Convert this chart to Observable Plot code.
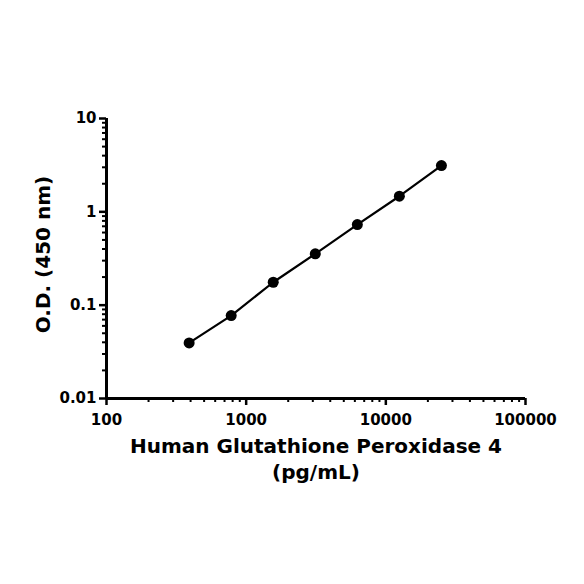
<!DOCTYPE html>
<html><head><meta charset="utf-8">
<script src="https://cdn.jsdelivr.net/npm/d3@7"></script>
<script src="https://cdn.jsdelivr.net/npm/@observablehq/plot@0.6"></script>
<style>html,body{margin:0;padding:0;background:#fff;}</style>
</head><body><div id="chart"></div>
<script>
const concentrations = [390.625, 781.25, 1562.5, 3125, 6250, 12500, 25000];
const od = [0.0394, 0.0774, 0.176, 0.355, 0.731, 1.47, 3.13];
const xTicks = [100, 1000, 10000, 100000];
const xTickLabels = ["100", "1000", "10000", "100000"];
const yTicks = [0.01, 0.1, 1, 10];
const yTickLabels = ["0.01", "0.1", "1", "10"];
const xLabel1 = "Human Glutathione Peroxidase 4";
const xLabel2 = "(pg/mL)";
const yLabel = "O.D. (450 nm)";

const data = concentrations.map((c, i) => ({c, od: od[i]}));
const minor = (lo, hi) => {
  const out = [];
  for (let d = lo; d < hi; d *= 10) for (let k = 2; k <= 9; k++) out.push(d * k);
  return out;
};
const xMinor = minor(100, 100000);
const yMinor = minor(0.01, 10);
const font = "'DejaVu Sans', sans-serif";

const chart = Plot.plot({
  width: 584, height: 584,
  marginLeft: 106, marginRight: 59, marginTop: 118, marginBottom: 186,
  style: {fontFamily: font, background: "#fff", color: "#000"},
  x: {type: "log", domain: [100, 100000]},
  y: {type: "log", domain: [0.01, 10]},
  marks: [
    Plot.axisX(xMinor, {tickSize: 4, strokeWidth: 2, tickFormat: () => "", label: null}),
    Plot.axisY(yMinor, {tickSize: 4, strokeWidth: 2, tickFormat: () => "", label: null}),
    Plot.axisX(xTicks, {tickSize: 7, strokeWidth: 2.5, tickPadding: 9, fontSize: 15, fontWeight: "bold",
      tickFormat: d => xTickLabels[xTicks.indexOf(d)], label: null}),
    Plot.axisY(yTicks, {tickSize: 7, strokeWidth: 2.5, tickPadding: 3, fontSize: 15, fontWeight: "bold",
      tickFormat: d => yTickLabels[yTicks.indexOf(d)], label: null}),
    Plot.ruleY([0.01], {strokeWidth: 3}),
    Plot.ruleX([100], {strokeWidth: 3}),
    Plot.line(data, {x: "c", y: "od", stroke: "#000", strokeWidth: 2.2}),
    Plot.dot(data, {x: "c", y: "od", r: 5.5, fill: "#000", stroke: "none"}),
    Plot.text([xLabel1], {frameAnchor: "bottom", dy: 54, fontSize: 20, fontWeight: "bold", text: d => d}),
    Plot.text([xLabel2], {frameAnchor: "bottom", dy: 80, fontSize: 20, fontWeight: "bold", text: d => d}),
    Plot.text([yLabel], {frameAnchor: "left", textAnchor: "middle", lineAnchor: "middle", dx: -63, dy: -4, rotate: -90, fontSize: 20, fontWeight: "bold", text: d => d})
  ]
});
document.getElementById("chart").appendChild(chart);
</script>
</body></html>
